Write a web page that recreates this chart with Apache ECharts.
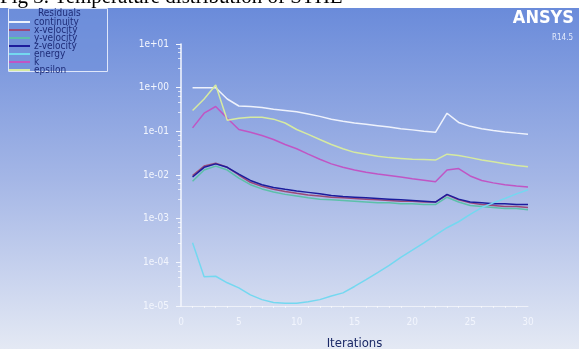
<!DOCTYPE html>
<html>
<head>
<meta charset="utf-8">
<script src="https://cdn.jsdelivr.net/npm/echarts@6/dist/echarts.min.js"></script>
<style>
  html, body { margin: 0; padding: 0; background: #fff; }
  #chart { width: 579px; height: 349px; }
</style>
</head>
<body>
<div id="chart"></div>
<script>
// residuals per iteration
const iterations = Array.from({ length: 30 }, (_, i) => i + 1);
const continuity = [1, 1, 1, 0.55, 0.38, 0.37, 0.35, 0.32, 0.3, 0.28, 0.25, 0.22, 0.19, 0.17, 0.155,
  0.145, 0.135, 0.125, 0.115, 0.108, 0.1, 0.095, 0.26, 0.16, 0.13, 0.115, 0.105, 0.097, 0.091, 0.086];
const xVelocity = [0.0097, 0.016, 0.0185, 0.015, 0.01, 0.0068, 0.0055, 0.0047, 0.0042, 0.0038, 0.0035,
  0.0033, 0.0031, 0.003, 0.0029, 0.0028, 0.0027, 0.0026, 0.0025, 0.0025, 0.0024, 0.0024, 0.0035,
  0.0027, 0.0023, 0.0021, 0.002, 0.0019, 0.0019, 0.0018];
const yVelocity = [0.0072, 0.013, 0.016, 0.013, 0.0085, 0.006, 0.0048, 0.0041, 0.0036, 0.0033, 0.003,
  0.0028, 0.0027, 0.0026, 0.0025, 0.0024, 0.0023, 0.0023, 0.0022, 0.0022, 0.0021, 0.0021, 0.0031,
  0.0024, 0.002, 0.0019, 0.0018, 0.0017, 0.0017, 0.0016];
const zVelocity = [0.009, 0.015, 0.018, 0.015, 0.0105, 0.0075, 0.006, 0.0052, 0.0047, 0.0043, 0.004,
  0.0037, 0.0034, 0.0032, 0.0031, 0.003, 0.0029, 0.0028, 0.0027, 0.0026, 0.0025, 0.0024, 0.0036,
  0.0028, 0.0024, 0.0023, 0.0022, 0.0022, 0.0021, 0.0021];
const energy = [2.8e-4, 4.7e-5, 4.8e-5, 3.4e-5, 2.6e-5, 1.8e-5, 1.4e-5, 1.2e-5, 1.15e-5, 1.15e-5,
  1.25e-5, 1.4e-5, 1.7e-5, 2e-5, 2.8e-5, 4e-5, 5.8e-5, 8.5e-5, 1.3e-4, 1.9e-4, 2.8e-4, 4.2e-4,
  6.2e-4, 8.5e-4, 1.25e-3, 1.8e-3, 2.3e-3, 2.9e-3, 3.7e-3, 4.6e-3];
const kRes = [0.12, 0.26, 0.37, 0.2, 0.11, 0.095, 0.08, 0.065, 0.05, 0.04, 0.03, 0.023, 0.018, 0.015,
  0.013, 0.0115, 0.0105, 0.0098, 0.009, 0.0082, 0.0076, 0.007, 0.013, 0.014, 0.0095, 0.0075, 0.0066,
  0.006, 0.0056, 0.0053];
const epsilon = [0.3, 0.55, 1.15, 0.18, 0.2, 0.21, 0.21, 0.19, 0.155, 0.11, 0.085, 0.065, 0.05, 0.04,
  0.033, 0.03, 0.027, 0.025, 0.024, 0.023, 0.0225, 0.022, 0.03, 0.028, 0.025, 0.022, 0.02, 0.018,
  0.0165, 0.0155];

const seriesNames = ['continuity', 'x-velocity', 'y-velocity', 'z-velocity', 'energy', 'k', 'epsilon'];
const seriesData = [continuity, xVelocity, yVelocity, zVelocity, energy, kRes, epsilon];
const colors = ['#eef2fc', '#9c4a78', '#5cc0aa', '#1c1c9c', '#74d8f0', '#c055c4', '#d6eaa0'];

const narrow = '"DejaVu Sans Condensed", "Liberation Sans Narrow", sans-serif';

const chart = echarts.init(document.getElementById('chart'));
chart.setOption({
  backgroundColor: '#ffffff',
  animation: false,
  color: colors,
  graphic: [
    {
      type: 'text', left: 0, top: -13, z: -30,
      style: { text: 'Fig 3. Temperature distribution of STHE', font: '21px "Liberation Serif", serif', fill: '#000' }
    },
    {
      type: 'rect', shape: { x: 0, y: 8, width: 579, height: 341 }, z: -20,
      style: {
        fill: new echarts.graphic.LinearGradient(0, 0, 0, 1, [
          { offset: 0, color: '#6a8bda' },
          { offset: 0.5, color: '#a4b6e6' },
          { offset: 1, color: '#e4e9f4' }
        ])
      }
    },
    {
      type: 'rect', shape: { x: 8.5, y: 8.5, width: 99, height: 63 }, z: -10,
      style: { fill: 'rgba(110,143,218,0.6)', stroke: '#dfe7fa', lineWidth: 1 }
    },
    {
      type: 'text', left: 38, top: 8, z: 5,
      style: { text: 'Residuals', font: '10px ' + narrow, fill: '#1e2c78' }
    },
    {
      type: 'text', right: 5, top: 9, z: 5,
      style: { text: 'ANSYS', font: 'bold 18px ' + narrow, fill: '#ffffff' }
    },
    {
      type: 'text', right: 6, top: 34, z: 5,
      style: { text: 'R14.5', font: '8px ' + narrow, fill: '#e4ebfb' }
    }
  ],
  legend: {
    orient: 'vertical',
    left: 9,
    top: 17,
    padding: 0,
    itemGap: -2,
    itemWidth: 21,
    itemHeight: 2,
    icon: 'rect',
    textStyle: { fontSize: 10, lineHeight: 7, color: '#1e2c78', fontFamily: narrow, padding: [0, 0, 0, -1] },
    data: seriesNames
  },
  grid: { left: 181, right: 51, top: 44, bottom: 43, outerBoundsMode: 'none', containLabel: false },
  xAxis: {
    type: 'value',
    min: 0,
    max: 30,
    interval: 5,
    name: 'Iterations',
    nameLocation: 'middle',
    nameGap: 31,
    nameTextStyle: { fontSize: 13, color: '#1a2866', fontFamily: narrow },
    axisLine: { show: true, lineStyle: { color: 'rgba(255,255,255,0.6)' } },
    axisTick: { show: false },
    minorTick: { show: true, splitNumber: 5, length: 2, lineStyle: { color: 'rgba(255,255,255,0.6)' } },
    axisLabel: { color: '#f2f5fd', fontSize: 10, fontFamily: narrow, margin: 11 },
    splitLine: { show: false }
  },
  yAxis: {
    type: 'log',
    min: 1e-5,
    max: 10,
    logBase: 10,
    axisLine: { show: true, lineStyle: { color: '#f4f7fe', width: 1.5 } },
    axisTick: { show: true, length: 5, lineStyle: { color: '#f4f7fe' } },
    minorTick: { show: true, splitNumber: 5, length: 3, lineStyle: { color: 'rgba(255,255,255,0.7)' } },
    axisLabel: {
      color: '#f2f5fd', fontSize: 10, fontFamily: narrow, margin: 12,
      formatter: function (v) {
        const e = Math.round(Math.log10(v));
        return '1e' + (e < 0 ? '-' : '+') + String(Math.abs(e)).padStart(2, '0');
      }
    },
    splitLine: { show: false }
  },
  series: seriesNames.map((name, i) => ({
    name: name,
    type: 'line',
    showSymbol: false,
    symbol: 'none',
    lineStyle: { width: 1.5 },
    data: iterations.map((it, j) => [it, seriesData[i][j]])
  }))
});
</script>
</body>
</html>
